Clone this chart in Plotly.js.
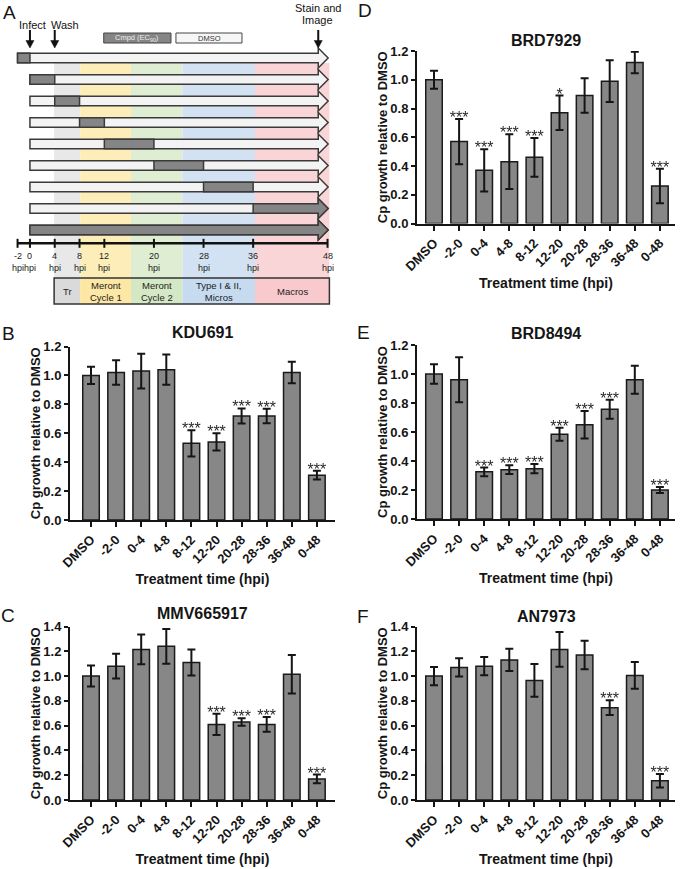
<!DOCTYPE html>
<html><head><meta charset="utf-8">
<script src="https://cdn.plot.ly/plotly-3.0.1.min.js"></script>
<style>html,body{margin:0;padding:0;background:#fff}#chart{width:680px;height:869px}
g.textpoint{filter:url(#mono)}</style>
</head><body>
<svg width="0" height="0" style="position:absolute"><defs><filter id="mono" color-interpolation-filters="sRGB"><feColorMatrix type="saturate" values="0"/></filter></defs></svg>
<div id="chart"></div>
<script>
// ---------------- data ----------------
const categories = ['DMSO','-2-0','0-4','4-8','8-12','12-20','20-28','28-36','36-48','0-48'];

const kdu691    = [1.00,1.02,1.03,1.04,0.53,0.54,0.72,0.72,1.02,0.31];
const kdu691Err = [0.06,0.085,0.12,0.105,0.09,0.06,0.052,0.05,0.075,0.03];
const kdu691Sig = ['','','','','***','***','***','***','','***'];

const mmv665917    = [1.00,1.08,1.215,1.24,1.11,0.61,0.63,0.61,1.015,0.17];
const mmv665917Err = [0.085,0.1,0.12,0.14,0.105,0.085,0.03,0.06,0.155,0.035];
const mmv665917Sig = ['','','','','','***','***','***','','***'];

const brd7929    = [1.00,0.57,0.37,0.43,0.46,0.77,0.89,0.99,1.12,0.26];
const brd7929Err = [0.063,0.157,0.147,0.19,0.135,0.12,0.12,0.145,0.075,0.12];
const brd7929Sig = ['','***','***','***','***','*','','','','***'];

const brd8494    = [1.00,0.96,0.325,0.34,0.347,0.585,0.65,0.757,0.96,0.20];
const brd8494Err = [0.068,0.155,0.03,0.03,0.032,0.045,0.095,0.065,0.097,0.02];
const brd8494Sig = ['','','***','***','***','***','***','***','','***'];

const an7973    = [1.00,1.07,1.08,1.13,0.965,1.215,1.17,0.745,1.005,0.155];
const an7973Err = [0.074,0.073,0.073,0.09,0.132,0.14,0.115,0.06,0.108,0.055];
const an7973Sig = ['','','','','','','','***','','***'];

// panel A schematic (hours post infection)
const hpiTicks   = [-2,0,4,8,12,20,28,36,48];
const treatStart = [-2,0,4,8,12,20,28,36,0];
const treatEnd   = [0,4,8,12,20,28,36,48,48];
const phaseNames = ['Tr','Meront<br>Cycle 1','Meront<br>Cycle 2','Type I & II,<br>Micros','Macros'];
const phaseEdges = [3.9,8.1,16.3,24.6,36.3,48.3];
const events     = ['Infect','Wash','Stain and<br>Image'];
const eventTimes = [0,4,46.5];

// ---------------- styling helpers ----------------
const W = 680, H = 869;
const FONT = 'Arial, "Liberation Sans", sans-serif';
const INK = '#151515';
const px2x = p => p / W;
const px2y = p => 1 - p / H;

const traces = [];
const layout = {
  width: W, height: H,
  margin: {l:0, r:0, t:0, b:0},
  paper_bgcolor: '#fff', plot_bgcolor: 'rgba(0,0,0,0)',
  showlegend: false,
  font: {family: FONT, color: INK},
  annotations: [], shapes: []
};

function barPanel(n, name, vals, errs, sig, xPx, yPx, ymax, firstTick, spacing, titleY) {
  const xa = n === 1 ? 'x' : 'x' + n, ya = n === 1 ? 'y' : 'y' + n;
  const xk = n === 1 ? 'xaxis' : 'xaxis' + n, yk = n === 1 ? 'yaxis' : 'yaxis' + n;
  traces.push({
    type: 'bar', x: categories, y: vals, xaxis: xa, yaxis: ya, width: 0.66,
    marker: {color: '#878787', line: {color: '#1a1a1a', width: 1.5}},
    error_y: {type: 'data', array: errs, visible: true, color: INK, thickness: 2, width: 4},
    hoverinfo: 'x+y'
  });
  const idx = sig.map((s, i) => i).filter(i => sig[i] !== '');
  traces.push({
    type: 'scatter', mode: 'text',
    x: idx.map(i => categories[i]), y: idx.map(i => vals[i] + errs[i]), text: idx.map(i => sig[i]),
    textposition: 'middle center', xaxis: xa, yaxis: ya,
    textfont: {size: 16, color: '#2a2a2a', family: FONT}, cliponaxis: false, hoverinfo: 'skip'
  });
  const lastTick = firstTick + 9 * spacing;
  layout[xk] = {
    domain: [px2x(xPx[0]), px2x(xPx[1])], anchor: ya,
    type: 'category', categoryarray: categories,
    range: [-(firstTick - xPx[0]) / spacing, 9 + (xPx[1] - lastTick) / spacing],
    tickangle: -45, showline: true, linecolor: INK, linewidth: 2,
    ticks: 'outside', ticklen: 5, tickwidth: 2, tickcolor: INK,
    tickfont: {size: 13, weight: 'bold', color: INK, family: FONT},
    title: {text: 'Treatment time (hpi)', font: {size: 14, weight: 'bold', color: INK, family: FONT}, standoff: 5},
    showgrid: false, zeroline: false, fixedrange: true
  };
  layout[yk] = {
    domain: [px2y(yPx[1]), px2y(yPx[0])], anchor: xa,
    range: [0, ymax], dtick: 0.2, tick0: 0, tickformat: '.1f',
    showline: true, linecolor: INK, linewidth: 2,
    ticks: 'outside', ticklen: 4, tickwidth: 2, tickcolor: INK,
    tickfont: {size: 13, weight: 'bold', color: INK, family: FONT},
    title: {text: 'Cp growth relative to DMSO', font: {size: 13, weight: 'bold', color: INK, family: FONT}, standoff: 0},
    showgrid: false, zeroline: false, fixedrange: true
  };
  layout.annotations.push({
    text: name, xref: 'paper', yref: 'paper',
    x: px2x((xPx[0] + xPx[1]) / 2), y: px2y(titleY),
    xanchor: 'center', yanchor: 'middle', showarrow: false,
    font: {size: 16, weight: 'bold', color: INK, family: FONT}
  });
}

barPanel(1, 'KDU691',    kdu691,    kdu691Err,    kdu691Sig,    [70, 335], [346.5, 520], 1.2, 91, 25.1, 332.5);
barPanel(2, 'MMV665917', mmv665917, mmv665917Err, mmv665917Sig, [70, 335], [626.5, 800], 1.4, 91, 25.1, 613);
barPanel(3, 'BRD7929',   brd7929,   brd7929Err,   brd7929Sig,   [417, 675], [51, 223.5], 1.2, 434, 25.1, 40.5);
barPanel(4, 'BRD8494',   brd8494,   brd8494Err,   brd8494Sig,   [417, 675], [345, 519], 1.2, 434, 25.1, 333.5);
barPanel(5, 'AN7973',    an7973,    an7973Err,    an7973Sig,    [417, 675], [626.5, 800], 1.4, 434, 25.1, 616);

// panel letters
[['A', 9, 12], ['B', 8, 333], ['C', 8, 615], ['D', 365, 10], ['E', 363, 332], ['F', 363, 616]].forEach(([t, x, y]) => {
  layout.annotations.push({text: t, xref: 'paper', yref: 'paper', x: px2x(x), y: px2y(y),
    xanchor: 'center', yanchor: 'middle', showarrow: false, font: {size: 19, color: INK, family: FONT}});
});

// ---------------- panel A: schematic ----------------
// x6 in hours post infection, y6 in pixels from top of figure
layout.xaxis6 = {domain: [0, 0.5], range: [-4.83, 50.01], visible: false, fixedrange: true, anchor: 'y6'};
layout.yaxis6 = {domain: [px2y(310), 1], range: [310, 0], visible: false, fixedrange: true, anchor: 'x6'};
traces.push({type: 'scatter', mode: 'markers', x: hpiTicks, y: hpiTicks.map(() => 243), xaxis: 'x6', yaxis: 'y6',
  marker: {size: 1, color: 'rgba(0,0,0,0)'}, hoverinfo: 'skip'});

const bandColors = ['#e8e8e8', '#fdeeb9', '#dfedd3', '#d3e2f3', '#fad5d8'];
const boxColors  = ['#dadada', '#fde7a4', '#d5e8c5', '#c6daf0', '#f8c9cd'];
const S = (o) => Object.assign({xref: 'x6', yref: 'y6'}, o);
const AXY = 243.3, BAND_TOP = 63, BOX_T = 278, BOX_B = 304;
for (let k = 0; k < phaseNames.length; k++) {
  layout.shapes.push(S({type: 'rect', layer: 'below', x0: phaseEdges[k], x1: phaseEdges[k + 1], y0: BAND_TOP, y1: BOX_T,
    fillcolor: bandColors[k], line: {width: 0}}));
  layout.shapes.push(S({type: 'rect', x0: phaseEdges[k], x1: phaseEdges[k + 1], y0: BOX_T, y1: BOX_B,
    fillcolor: boxColors[k], line: {width: 0}}));
  layout.annotations.push({text: phaseNames[k], xref: 'x6', yref: 'y6',
    x: (phaseEdges[k] + phaseEdges[k + 1]) / 2, y: (BOX_T + BOX_B) / 2, showarrow: false,
    xanchor: 'center', yanchor: 'middle', font: {size: 9.5, color: '#222', family: FONT}});
}
layout.shapes.push(S({type: 'rect', x0: phaseEdges[0], x1: phaseEdges[phaseEdges.length - 1], y0: BOX_T, y1: BOX_B,
  line: {color: '#333', width: 1.5}, fillcolor: 'rgba(0,0,0,0)'}));

// treatment arrows
const HEAD_BASE = 46.5, TIP = 48.1, BH = 4.8, HH = 10;
function arrowPath(s, y) {
  return `M ${s},${y - BH} L ${HEAD_BASE},${y - BH} L ${HEAD_BASE},${y - HH} L ${TIP},${y} L ${HEAD_BASE},${y + HH} L ${HEAD_BASE},${y + BH} L ${s},${y + BH} Z`;
}
for (let i = 0; i < treatStart.length; i++) {
  const y = 58 + 21.5 * i;
  const s0 = Math.min(0, treatStart[i]);
  layout.shapes.push(S({type: 'path', path: arrowPath(s0, y), fillcolor: '#f3f3f3', line: {color: '#3a3a3a', width: 1.5}}));
  if (treatEnd[i] >= 48) {
    layout.shapes.push(S({type: 'path', path: arrowPath(treatStart[i], y), fillcolor: '#858585', line: {color: '#3a3a3a', width: 1.5}}));
  } else {
    layout.shapes.push(S({type: 'rect', x0: treatStart[i], x1: treatEnd[i], y0: y - BH, y1: y + BH,
      fillcolor: '#858585', line: {color: '#3a3a3a', width: 1.5}}));
  }
}

// time axis
layout.shapes.push(S({type: 'line', x0: hpiTicks[0], x1: hpiTicks[hpiTicks.length - 1], y0: AXY, y1: AXY, line: {color: '#111', width: 2.5}}));
hpiTicks.forEach(t => {
  layout.shapes.push(S({type: 'line', x0: t, x1: t, y0: AXY - 4.5, y1: AXY + 4.5, line: {color: '#111', width: 2}}));
  layout.annotations.push({text: String(t), xref: 'x6', yref: 'y6', x: t, y: 256, showarrow: false,
    xanchor: 'center', yanchor: 'middle', font: {size: 9, color: '#222', family: FONT}});
  layout.annotations.push({text: 'hpi', xref: 'x6', yref: 'y6', x: t, y: 267.5, showarrow: false,
    xanchor: 'center', yanchor: 'middle', font: {size: 9, color: '#222', family: FONT}});
});

// legend boxes
layout.shapes.push(S({type: 'rect', x0: 11.9, x1: 22.75, y0: 33, y1: 43, fillcolor: '#858585', line: {color: '#444', width: 1}}));
layout.shapes.push(S({type: 'rect', x0: 23.55, x1: 34.2, y0: 33, y1: 43, fillcolor: '#f6f6f6', line: {color: '#444', width: 1}}));
layout.annotations.push({text: 'Cmpd (EC<sub>90</sub>)', xref: 'x6', yref: 'y6', x: 17.3, y: 38, showarrow: false,
  xanchor: 'center', yanchor: 'middle', font: {size: 7.5, color: '#eeeeee', family: FONT}});
layout.annotations.push({text: 'DMSO', xref: 'x6', yref: 'y6', x: 28.9, y: 38, showarrow: false,
  xanchor: 'center', yanchor: 'middle', font: {size: 7.5, color: '#333', family: FONT}});

// event arrows (shapes) + labels
eventTimes.forEach(t => {
  layout.shapes.push(S({type: 'line', x0: t, x1: t, y0: 30, y1: 42, line: {color: '#111', width: 2}}));
  layout.shapes.push(S({type: 'path', path: `M ${t - 0.65},40.5 L ${t + 0.65},40.5 L ${t},48 Z`, fillcolor: '#111', line: {color: '#111', width: 0.5}}));
});
[[events[0], 0.4, 25], [events[1], 5.65, 25]].forEach(([lab, lx, ly]) => {
  layout.annotations.push({text: lab, xref: 'x6', yref: 'y6', x: lx, y: ly, showarrow: false,
    xanchor: 'center', yanchor: 'middle', font: {size: 11, color: '#111', family: FONT}});
});
events[2].split('<br>').forEach((lab, j) => {
  layout.annotations.push({text: lab, xref: 'x6', yref: 'y6', x: 46.4, y: 7.5 + 12 * j, showarrow: false,
    xanchor: 'center', yanchor: 'middle', font: {size: 11, color: '#111', family: FONT}});
});

Plotly.newPlot('chart', traces, layout, {displayModeBar: false, staticPlot: true});
</script>
</body></html>
